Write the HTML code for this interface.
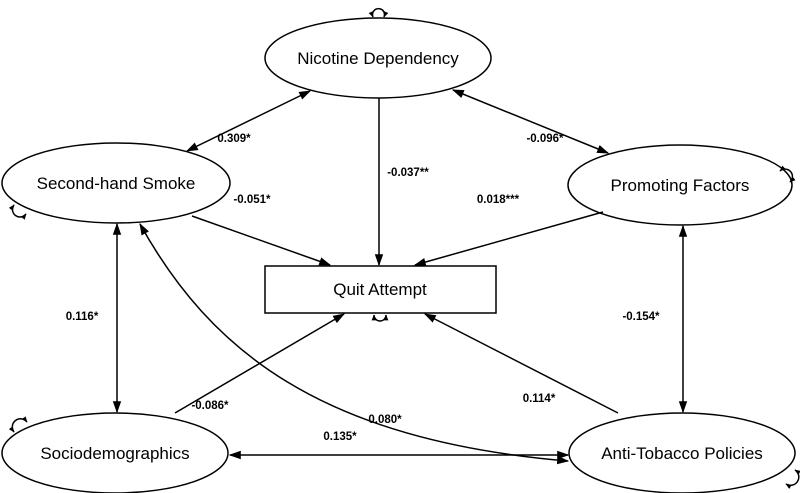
<!DOCTYPE html>
<html><head><style>
html,body{margin:0;padding:0;background:#fff;}
svg{display:block;font-family:"Liberation Sans",Arial,sans-serif;}
.n{font-size:17px;text-anchor:middle;}
.l{font-size:11.5px;font-weight:bold;text-anchor:middle;}
</style></head><body>
<svg width="800" height="493" viewBox="0 0 800 493">
<defs>
<marker id="a" viewBox="0 0 10 10" refX="9" refY="5" markerWidth="8" markerHeight="8" orient="auto-start-reverse"><path d="M0,1.5 L10,5 L0,8.5 z" fill="#000"/></marker>
<marker id="s" viewBox="0 0 10 10" refX="9" refY="5" markerWidth="4" markerHeight="4" orient="auto-start-reverse"><path d="M0,1 L10,5 L0,9 z" fill="#000"/></marker>
</defs>
<g fill="none" stroke="#000" stroke-width="1.5">
<ellipse cx="378" cy="58" rx="113" ry="40"/>
<ellipse cx="116" cy="183" rx="114" ry="40"/>
<ellipse cx="680" cy="185" rx="112" ry="40"/>
<ellipse cx="115" cy="453" rx="113" ry="40"/>
<ellipse cx="682" cy="453" rx="113" ry="40"/>
<rect x="265" y="266" width="231" height="47"/>
<line x1="310" y1="91" x2="187" y2="151" marker-start="url(#a)" marker-end="url(#a)"/>
<line x1="453" y1="90" x2="608" y2="153" marker-start="url(#a)" marker-end="url(#a)"/>
<line x1="379" y1="98" x2="379" y2="265" marker-end="url(#a)"/>
<line x1="192" y1="216" x2="330" y2="265" marker-end="url(#a)"/>
<line x1="603" y1="212" x2="415" y2="265" marker-end="url(#a)"/>
<line x1="117" y1="224" x2="117" y2="412" marker-start="url(#a)" marker-end="url(#a)"/>
<line x1="683" y1="226" x2="683" y2="412" marker-start="url(#a)" marker-end="url(#a)"/>
<line x1="175" y1="413" x2="344" y2="314" marker-end="url(#a)"/>
<line x1="618" y1="413" x2="425" y2="314" marker-end="url(#a)"/>
<line x1="230" y1="455" x2="568" y2="455" marker-start="url(#a)" marker-end="url(#a)"/>
<path d="M140,224 C210,350 320,440 568,461" marker-start="url(#a)" marker-end="url(#a)"/>
</g>
<g fill="none" stroke="#000" stroke-width="1.5">
<path d="M373,17 A6,6 0 1 1 384,17" marker-start="url(#s)" marker-end="url(#s)"/>
<path d="M14,205 A6,6 0 1 0 26,214" marker-start="url(#s)" marker-end="url(#s)"/>
<path d="M780,171 A6,6 0 1 1 790,182" marker-start="url(#s)" marker-end="url(#s)"/>
<path d="M374,315 A6,6 0 1 0 386,315" marker-start="url(#s)" marker-end="url(#s)"/>
<path d="M14,432 A6,6 0 1 1 27,422" marker-start="url(#s)" marker-end="url(#s)"/>
<path d="M795,470 A6,6 0 1 1 786,484" marker-start="url(#s)" marker-end="url(#s)"/>
</g>
<text class="n" x="378" y="64">Nicotine Dependency</text>
<text class="n" x="116" y="189">Second-hand Smoke</text>
<text class="n" x="680" y="191">Promoting Factors</text>
<text class="n" x="115" y="459">Sociodemographics</text>
<text class="n" x="682" y="459">Anti-Tobacco Policies</text>
<text class="n" x="380" y="295">Quit Attempt</text>
<text class="l" x="234" y="142">0.309*</text>
<text class="l" x="545" y="142">-0.096*</text>
<text class="l" x="408" y="176">-0.037**</text>
<text class="l" x="252" y="203">-0.051*</text>
<text class="l" x="498" y="203">0.018***</text>
<text class="l" x="82" y="320">0.116*</text>
<text class="l" x="641" y="320">-0.154*</text>
<text class="l" x="210" y="409">-0.086*</text>
<text class="l" x="539" y="402">0.114*</text>
<text class="l" x="385" y="423">0.080*</text>
<text class="l" x="340" y="440">0.135*</text>
</svg>
</body></html>
